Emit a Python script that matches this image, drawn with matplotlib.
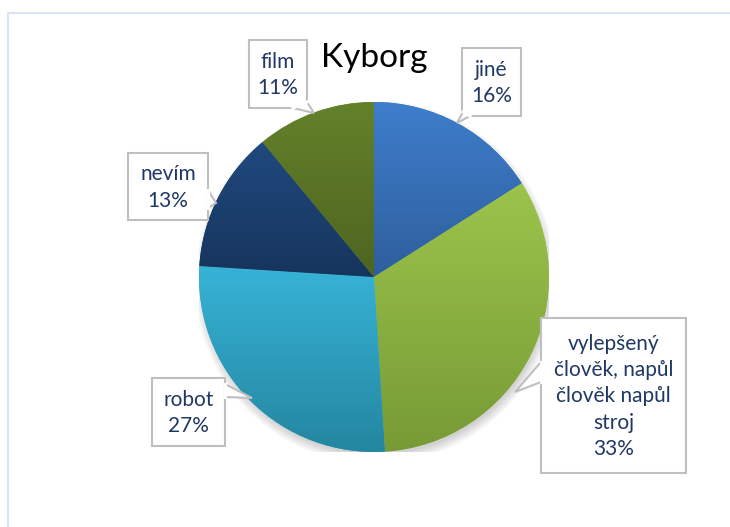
import numpy as np
import matplotlib
matplotlib.use("Agg")
import matplotlib.pyplot as plt
from matplotlib.colors import LinearSegmentedColormap
from matplotlib.patches import Polygon, Circle

categories = ["jiné", "vylepšený\nčlověk, napůl\nčlověk napůl\nstroj", "robot", "nevím", "film"]
values = [16, 33, 27, 13, 11]
colors_top = ["#3E7ECC", "#9CC44B", "#37B3D7", "#20497F", "#64812A"]
colors_bottom = ["#2E5E9C", "#779A36", "#2486A0", "#16355C", "#4E6420"]

# callout boxes in pixel coords: (x0, y0, x1, y1), notch polygon points
callouts = [
    ((462, 48, 521, 116), [(470, 116), (457, 123), (463, 112)]),
    ((541, 318, 686, 473), [(541, 362), (515, 392), (541, 382)]),
    ((152, 378, 225, 446), [(225, 384), (252, 398), (225, 397)]),
    ((128, 153, 208, 220), [(208, 190), (216, 203), (208, 208)]),
    ((249, 40, 307, 108), [(293, 108), (314, 113), (307, 102)]),
]

W, H = 730, 527
fig = plt.figure(figsize=(W / 100, H / 100), dpi=100)
fig.patch.set_facecolor("white")

cx, cy, R = 374, 277, 175
ax = fig.add_axes([(cx - R) / W, (H - cy - R) / H, 2 * R / W, 2 * R / H])
ax.set_xlim(-1, 1)
ax.set_ylim(-1, 1)
ax.axis("off")

# soft shadow under the pie
for k in range(6):
    ax.add_patch(Circle((0.01, -0.03), 0.985 + 0.01 * k, color="black",
                        alpha=0.03, lw=0, zorder=0))

wedges, _ = ax.pie(values, startangle=90, counterclock=False, radius=1.0,
                   colors=colors_top, wedgeprops=dict(linewidth=0))

for w, ct, cb in zip(wedges, colors_top, colors_bottom):
    th = np.radians(np.linspace(w.theta1, w.theta2, 200))
    ys = np.concatenate([[0.0], np.sin(th) * w.r])
    y0, y1 = ys.min(), ys.max()
    cmap = LinearSegmentedColormap.from_list("g", [cb, ct])
    grad = np.linspace(0, 1, 256).reshape(-1, 1)
    im = ax.imshow(grad, extent=(-1, 1, y0, y1), origin="lower", cmap=cmap,
                   aspect="auto", zorder=2)
    im.set_clip_path(w)
ax.set_xlim(-1, 1)
ax.set_ylim(-1, 1)

ov = fig.add_axes([0, 0, 1, 1])
ov.set_xlim(0, W)
ov.set_ylim(H, 0)
ov.axis("off")
ov.patch.set_alpha(0)

# outer chart frame (only left and top edges visible)
ov.plot([8, 8, W + 5], [H + 5, 13, 13], color="#DAE5F2", lw=1.5)

ov.text(cx, 58, "Kyborg", fontsize=24, family="Lato", ha="center",
        va="center", color="black")

for (box, notch), cat, v in zip(callouts, categories, values):
    x0, y0, x1, y1 = box
    ov.add_patch(Polygon([(x0, y0), (x1, y0), (x1, y1), (x0, y1)], closed=True,
                         facecolor="white", edgecolor="#BFBFBF", lw=1.5, zorder=3))
    ov.add_patch(Polygon(notch, closed=True, facecolor="white",
                         edgecolor="#BFBFBF", lw=1.5, zorder=3))
    # cover the box edge under the notch
    ov.plot([notch[0][0], notch[2][0]], [notch[0][1], notch[2][1]],
            color="white", lw=2.2, zorder=4)
    ov.text((x0 + x1) / 2, (y0 + y1) / 2 + 1, "%s\n%d%%" % (cat, v), fontsize=15,
            family="Lato", ha="center", va="center", color="#1F3864",
            linespacing=1.38, zorder=5)

fig.savefig("out.png", dpi=100)
